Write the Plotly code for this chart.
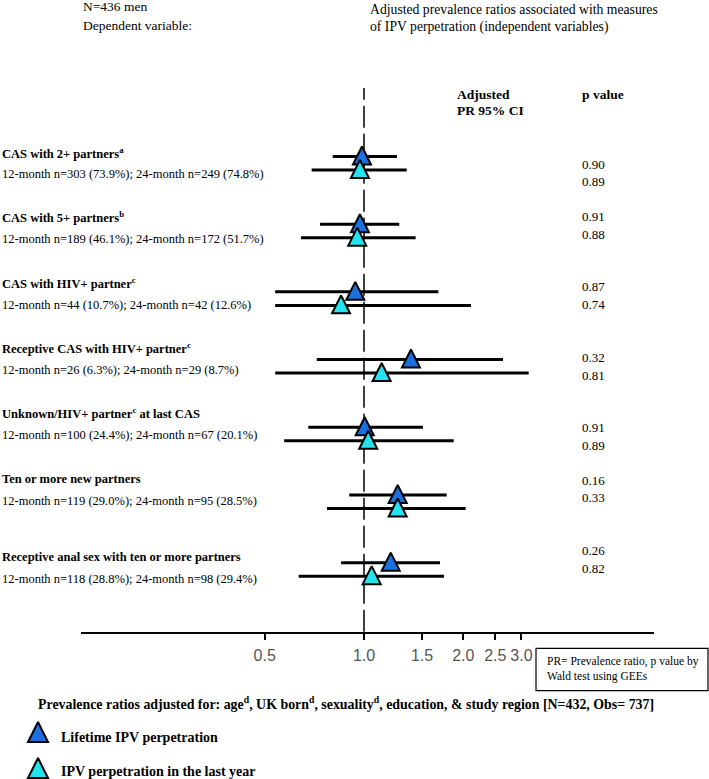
import math
import plotly.graph_objects as go

# ---------------- data ----------------
row_titles = [
    "CAS with 2+ partners<sup>a</sup>",
    "CAS with 5+ partners<sup>b</sup>",
    "CAS with HIV+ partner<sup>c</sup>",
    "Receptive CAS with HIV+ partner<sup>c</sup>",
    "Unknown/HIV+ partner<sup>c</sup> at last CAS",
    "Ten or more new partners",
    "Receptive anal sex with ten or more partners",
]
n_12m = [303, 189, 44, 26, 100, 119, 118]
pct_12m = ["73.9", "46.1", "10.7", "6.3", "24.4", "29.0", "28.8"]
n_24m = [249, 172, 42, 29, 67, 95, 98]
pct_24m = ["74.8", "51.7", "12.6", "8.7", "20.1", "28.5", "29.4"]

series_names = ["Lifetime IPV perpetration", "IPV perpetration in the last year"]

lifetime_pr = [0.986, 0.972, 0.941, 1.388, 1.005, 1.265, 1.205]
lifetime_lo = [0.804, 0.736, 0.538, 0.719, 0.678, 0.902, 0.852]
lifetime_hi = [1.259, 1.279, 1.680, 2.638, 1.509, 1.781, 1.700]
lifetime_p = ["0.90", "0.91", "0.87", "0.32", "0.91", "0.16", "0.26"]

lastyear_pr = [0.972, 0.954, 0.852, 1.131, 1.030, 1.265, 1.055]
lastyear_lo = [0.694, 0.644, 0.538, 0.538, 0.573, 0.772, 0.634]
lastyear_hi = [1.347, 1.434, 2.110, 3.156, 1.870, 2.033, 1.748]
lastyear_p = ["0.89", "0.88", "0.74", "0.81", "0.89", "0.33", "0.82"]

tick_vals = [0.5, 1.0, 1.5, 2.0, 2.5, 3.0]
tick_text = ["0.5", "1.0", "1.5", "2.0", "2.5", "3.0"]

# ---------------- styling / layout helpers ----------------
W, H = 709, 779
BLUE = "#1b6fdf"
CYAN = "#22e3ee"
SERIF = "Liberation Serif, Times New Roman, serif"
NARROW = "Liberation Sans Narrow, Arial Narrow, Liberation Sans, Arial, sans-serif"


def px(x):
    return x / W


def py(y):
    return 1 - y / H


rows = list(range(len(row_titles)))
blue_y = [r - 0.1 for r in rows]
cyan_y = [r + 0.1 for r in rows]
MARK_OFF = -0.148  # apex of arrow-up marker sits slightly above the CI line

fig = go.Figure()


def ci_trace(est, lo, hi, ys):
    return go.Scatter(
        x=est, y=ys, mode="markers",
        marker=dict(size=2, opacity=0),
        error_x=dict(type="data", symmetric=False,
                     array=[h - e for e, h in zip(est, hi)],
                     arrayminus=[e - l for e, l in zip(est, lo)],
                     thickness=3, width=0, color="black"),
        showlegend=False, hoverinfo="skip", cliponaxis=False,
    )


def mark_trace(est, ys, color, name):
    return go.Scatter(
        x=est, y=[v + MARK_OFF for v in ys], mode="markers", name=name,
        marker=dict(symbol="arrow-up", size=18, color=color,
                    line=dict(color="black", width=2)),
        showlegend=False, cliponaxis=False,
    )


fig.add_trace(ci_trace(lifetime_pr, lifetime_lo, lifetime_hi, blue_y))
fig.add_trace(mark_trace(lifetime_pr, blue_y, BLUE, series_names[0]))
fig.add_trace(ci_trace(lastyear_pr, lastyear_lo, lastyear_hi, cyan_y))
fig.add_trace(mark_trace(lastyear_pr, cyan_y, CYAN, series_names[1]))

# legend symbols on a helper axis pair
fig.add_trace(go.Scatter(
    x=[0.268, 0.268], y=series_names, xaxis="x2", yaxis="y2", mode="markers",
    marker=dict(symbol="arrow-up", size=20, color=[BLUE, CYAN],
                line=dict(color="black", width=2)),
    showlegend=False, cliponaxis=False, hoverinfo="skip",
))

K = 329.96  # px per log10 unit
x_lo = (81 - 364) / K
x_hi = (654 - 364) / K

fig.update_layout(
    width=W, height=H,
    margin=dict(l=0, r=0, t=0, b=0),
    paper_bgcolor="white", plot_bgcolor="white",
    showlegend=False,
    xaxis=dict(
        type="log", domain=[px(81), px(654)], range=[x_lo, x_hi],
        showline=True, linecolor="black", linewidth=1.5,
        ticks="outside", ticklen=7, tickwidth=1.5, tickcolor="black",
        tickvals=tick_vals, ticktext=tick_text, tickangle=0,
        tickfont=dict(family=NARROW, size=16, color="#555555"),
        ticklabelstandoff=1,
        showgrid=False, zeroline=False, anchor="y",
    ),
    yaxis=dict(
        domain=[py(631.7), py(88)], range=[6.920, -1.111],
        visible=False, showgrid=False, zeroline=False,
    ),
    xaxis2=dict(domain=[0, 0.2], range=[0, 1], visible=False, anchor="y2"),
    yaxis2=dict(domain=[0, 0.12], range=[1.583, -1.014], visible=False,
                type="category", categoryorder="array",
                categoryarray=series_names, anchor="x2"),
)

shapes = [
    dict(type="line", xref="x", yref="y domain", x0=1, x1=1, y0=0, y1=1,
         line=dict(color="black", width=1.5, dash="22px,6px"), layer="below"),
    dict(type="rect", xref="paper", yref="paper",
         x0=px(536), x1=px(708), y0=py(690.7), y1=py(648.3),
         line=dict(color="black", width=1.2)),
]
fig.update_layout(shapes=shapes)

ann = []


def text(x, y, s, size=13, bold=False, color="black"):
    if bold:
        s = "<b>" + s + "</b>"
    ann.append(dict(x=px(x), y=py(y), xref="paper", yref="paper", text=s,
                    showarrow=False, xanchor="left", yanchor="middle",
                    font=dict(family=SERIF, size=size, color=color)))


# header
text(81, 6, "N=436 men", size=13.5)
text(81, 25, "Dependent variable:", size=13.5)
text(368, 9.3, "Adjusted prevalence ratios associated with measures", size=13.7)
text(368, 26.7, "of IPV perpetration (independent variables)", size=13.7)
text(455, 94.3, "Adjusted", size=13.5, bold=True)
text(455, 110, "PR 95% CI", size=13.5, bold=True)
text(580, 94.3, "p value", size=13.5, bold=True)

# row labels
title_y = [152.7, 217.3, 283.3, 348.3, 413.3, 479, 557.3]
sub_y = [173.7, 239, 304.7, 370, 435.3, 500.7, 579]
for i in rows:
    text(0, title_y[i], row_titles[i], size=12.5, bold=True)
    text(0, sub_y[i],
         f"12-month n={n_12m[i]} ({pct_12m[i]}%); 24-month n={n_24m[i]} ({pct_24m[i]}%)",
         size=12.5)

# p values
p_y = [164, 216.7, 286.7, 357.7, 427.3, 480, 550.3]
for i in rows:
    text(580, p_y[i], lifetime_p[i], size=13)
    text(580, p_y[i] + 17.7, lastyear_p[i], size=13)

# box note
text(545, 661.7, "PR= Prevalence ratio, p value by", size=11.5)
text(545, 676, "Wald test using GEEs", size=11.5)

# footnote
text(36, 703.3,
     "Prevalence ratios adjusted for: age<sup>d</sup>, UK born<sup>d</sup>, "
     "sexuality<sup>d</sup>, education, &amp; study region [N=432, Obs= 737]",
     size=13.9, bold=True)

# legend labels
text(59.3, 737.3, series_names[0], size=14, bold=True)
text(59.3, 771.7, series_names[1], size=14, bold=True)

fig.update_layout(annotations=ann)

fig.write_html(
    "out.html",
    config={"displayModeBar": False},
    post_script="document.body.style.margin='0';document.body.style.padding='0';"
                "document.body.style.overflow='hidden';",
)
